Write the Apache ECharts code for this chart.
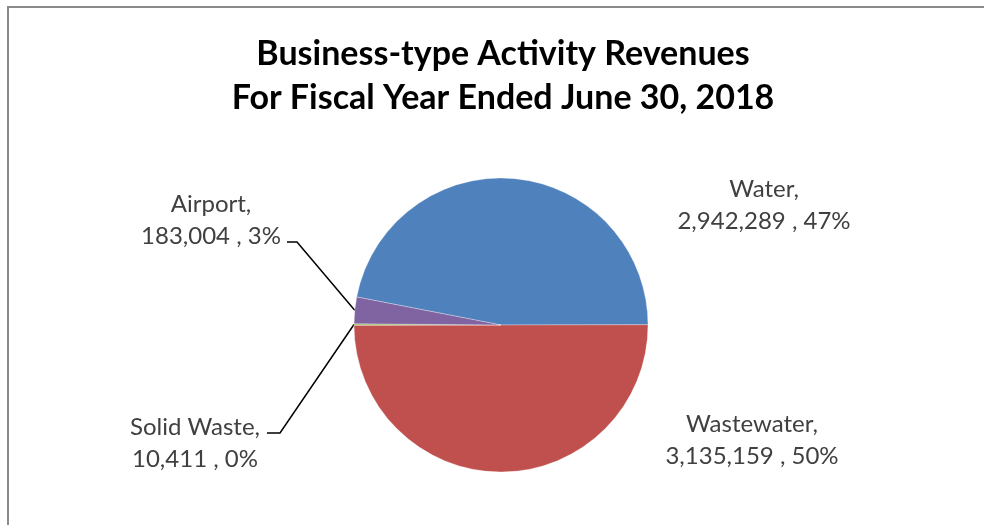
<!DOCTYPE html>
<html>
<head>
<meta charset="utf-8">
<script src="https://cdn.jsdelivr.net/npm/echarts@6/dist/echarts.min.js"></script>
<style>
  html, body { margin: 0; padding: 0; background: #fff; overflow: hidden; }
  #chart { width: 984px; height: 525px; }
</style>
</head>
<body>
<div id="chart"></div>
<script>
// Revenue by business-type activity, FY ended June 30, 2018
const categories = ['Water', 'Wastewater', 'Solid Waste', 'Airport'];
const revenues = [2942289, 3135159, 10411, 183004];
const sliceColors = ['#4F81BD', '#C0504D', '#9BBB59', '#8064A2'];

// Where each two-line label sits, and the elbow of its leader line (if any)
const labelSpots = {
  'Water':       { x: 764, y: 205 },
  'Wastewater':  { x: 752, y: 440 },
  'Airport':     { x: 211, y: 220, elbow: [[297, 242], [287, 242]] },
  'Solid Waste': { x: 195, y: 443, elbow: [[280, 433], [267, 433]] }
};

const fmt = n => n.toLocaleString('en-US');

const chart = echarts.init(document.getElementById('chart'), null, { renderer: 'canvas' });

chart.setOption({
  backgroundColor: '#ffffff',
  animation: false,
  title: {
    text: 'Business-type Activity Revenues\nFor Fiscal Year Ended June 30, 2018',
    left: 498,
    textAlign: 'center',
    top: 27,
    textStyle: {
      fontFamily: 'Lato',
      fontWeight: 'bold',
      fontSize: 34,
      lineHeight: 44,
      color: '#000'
    }
  },
  graphic: [{
    type: 'polyline',
    shape: { points: [[8, 530], [8, 7], [990, 7]] },
    style: { fill: null, stroke: '#8a8a8a', lineWidth: 2 },
    silent: true
  }],
  series: [{
    type: 'pie',
    center: [501, 325],
    radius: 147,
    startAngle: 169,
    clockwise: true,
    avoidLabelOverlap: false,
    itemStyle: { borderColor: 'rgba(255,255,255,0.5)', borderWidth: 0.6 },
    label: {
      show: true,
      position: 'outside',
      fontFamily: 'Lato',
      fontSize: 24,
      lineHeight: 32,
      color: '#404040',
      formatter: p => p.name + ',\n' + fmt(p.value) + ' , ' + Math.round(p.percent) + '%'
    },
    labelLine: {
      show: true,
      lineStyle: { color: '#000', width: 1.5 }
    },
    labelLayout: function (params) {
      const name = categories[params.dataIndex];
      const spot = labelSpots[name];
      const out = { x: spot.x, y: spot.y, align: 'center', verticalAlign: 'middle' };
      if (spot.elbow && params.labelLinePoints) {
        out.labelLinePoints = [params.labelLinePoints[0]].concat(spot.elbow);
      }
      return out;
    },
    data: categories.map((name, i) => ({
      name: name,
      value: revenues[i],
      itemStyle: { color: sliceColors[i] },
      labelLine: { show: !!labelSpots[name].elbow }
    }))
  }]
});
</script>
</body>
</html>
